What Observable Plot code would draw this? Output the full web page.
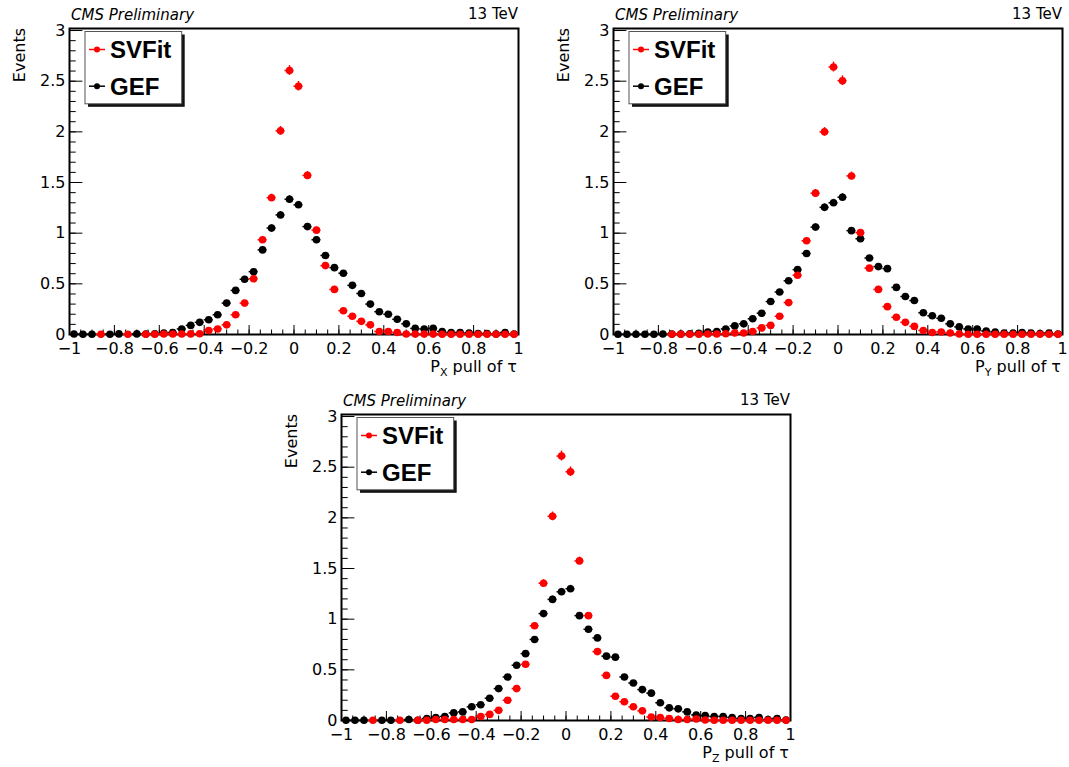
<!DOCTYPE html>
<html><head><meta charset="utf-8">
<script src="https://cdn.jsdelivr.net/npm/d3@7"></script>
<script src="https://cdn.jsdelivr.net/npm/@observablehq/plot@0.6"></script>
<style>
body{margin:0;background:#fff;overflow:hidden}
#root{position:relative;width:1069px;height:767px;background:#fff}
.panel{position:absolute}
</style></head><body><div id="root"></div>
<script>
// ---- data ----
const binCenters = [-0.98,-0.94,-0.90,-0.86,-0.82,-0.78,-0.74,-0.70,-0.66,-0.62,
  -0.58,-0.54,-0.50,-0.46,-0.42,-0.38,-0.34,-0.30,-0.26,-0.22,
  -0.18,-0.14,-0.10,-0.06,-0.02,0.02,0.06,0.10,0.14,0.18,
  0.22,0.26,0.30,0.34,0.38,0.42,0.46,0.50,0.54,0.58,
  0.62,0.66,0.70,0.74,0.78,0.82,0.86,0.90,0.94,0.98];
const xTickLabels = [-1,-0.8,-0.6,-0.4,-0.2,0,0.2,0.4,0.6,0.8,1];
const yTickLabels = [0,0.5,1,1.5,2,2.5,3];
const seriesNames = ["SVFit","GEF"];
const seriesColors = ["#ff0000","#000000"];
const panelAxes = ["X","Y","Z"];

const pxSVFit = [null,null,null,0.002,null,null,0.002,null,0.003,0.003,
  0.005,0.005,0.005,0.006,0.008,0.04,0.055,0.095,0.195,0.31,
  0.55,0.935,1.35,2.01,2.605,2.45,1.57,1.03,0.68,0.445,
  0.235,0.18,0.13,0.095,0.03,0.03,0.02,0.005,0.004,0.004,
  0.004,0.003,0.003,0.003,0.003,0.003,0.003,0.003,0.003,0.003];
const pxGEF = [0.005,0.003,0.003,null,0.003,0.006,null,0.006,0.005,0.008,
  0.015,0.02,0.055,0.09,0.12,0.145,0.195,0.31,0.435,0.545,
  0.62,0.835,1.05,1.18,1.335,1.28,1.065,0.935,0.78,0.66,
  0.605,0.485,0.405,0.30,0.225,0.20,0.15,0.105,0.06,0.055,
  0.06,0.03,0.02,0.02,0.015,0.01,0.01,0.005,0.02,0.005];

const pySVFit = [null,null,null,null,null,null,0.002,0.002,0.002,0.003,
  0.005,0.005,0.007,0.015,0.015,0.03,0.065,0.09,0.18,0.315,
  0.585,0.925,1.395,2.0,2.64,2.505,1.565,1.005,0.655,0.445,
  0.275,0.17,0.12,0.08,0.04,0.02,0.025,0.015,0.005,0.003,
  0.003,0.003,0.003,0.003,0.003,0.003,0.003,0.003,0.003,0.003];
const pyGEF = [0.003,0.002,0.002,0.002,0.002,0.005,0.004,0.005,0.008,0.012,
  0.025,0.03,0.055,0.085,0.105,0.155,0.21,0.325,0.42,0.53,
  0.64,0.80,1.06,1.255,1.30,1.355,1.025,0.945,0.755,0.67,
  0.65,0.465,0.375,0.335,0.215,0.185,0.16,0.105,0.075,0.055,
  0.055,0.035,0.025,0.015,0.015,0.02,0.015,0.01,0.015,0.005];

const pzSVFit = [null,null,null,0.002,null,null,0.002,null,0.002,0.002,
  0.01,0.01,0.01,0.01,0.01,0.04,0.06,0.10,0.20,0.315,
  0.555,0.935,1.355,2.015,2.61,2.455,1.575,1.035,0.68,0.445,
  0.24,0.185,0.135,0.095,0.035,0.03,0.02,0.01,0.01,0.015,
  0.005,0.003,0.003,0.003,0.003,0.003,0.003,0.003,0.003,0.003];
const pzGEF = [0.002,0.002,0.002,null,0.002,0.002,null,0.01,0.003,0.02,
  0.03,0.04,0.075,0.085,0.135,0.155,0.22,0.315,0.43,0.545,
  0.66,0.80,1.055,1.195,1.27,1.30,1.035,0.90,0.815,0.635,
  0.625,0.43,0.37,0.305,0.27,0.175,0.125,0.115,0.085,0.055,
  0.05,0.04,0.04,0.03,0.02,0.02,0.03,0.01,0.02,0.005];

// ---- layout ----
const W = 523, H = 380, ML = 69, MR = 5, MT = 28, MB = 46;
const FW = W - ML - MR, FH = H - MT - MB;
const panelPos = [{left:0, top:0},{left:544, top:0},{left:272, top:386}];
const panelData = [[pxSVFit, pxGEF],[pySVFit, pyGEF],[pzSVFit, pzGEF]];
const halfBin = (binCenters[1] - binCenters[0]) / 2;
const statErr = v => 0.03 * Math.sqrt(Math.max(v, 0));
const fmt = d3.format("~g");
const xMinor = d3.range(-20, 21).map(i => i * 0.05);
const yMinor = d3.range(0, 31).map(i => i * 0.1);

const root = document.getElementById("root");

panelData.forEach((vals, p) => {
  const seriesRows = vals.map((arr, s) => binCenters.map((x, i) => ({x, y: arr[i], s})).filter(d => d.y != null));
  const seriesMarks = [];
  // draw GEF first, SVFit on top
  [1, 0].forEach(s => {
    const rows = seriesRows[s], c = seriesColors[s];
    seriesMarks.push(
      Plot.ruleY(rows, {y: "y", x1: d => d.x - halfBin, x2: d => d.x + halfBin, stroke: c, strokeWidth: 1.5}),
      Plot.ruleX(rows, {x: "x", y1: d => d.y - statErr(d.y), y2: d => d.y + statErr(d.y), stroke: c, strokeWidth: 1.5}),
      Plot.dot(rows, {x: "x", y: "y", r: 3.8, fill: c, stroke: null})
    );
  });
  const chart = Plot.plot({
    width: W, height: H,
    marginLeft: ML, marginRight: MR, marginTop: MT, marginBottom: MB,
    style: {fontFamily: "DejaVu Sans", fontSize: "16px", background: "white", overflow: "visible", color: "black"},
    x: {domain: [-1, 1]},
    y: {domain: [0, 3.02]},
    marks: [
      Plot.frame({stroke: "black", strokeWidth: 2}),
      Plot.tickX(xMinor, {x: d => d, insetTop: FH - 4.5, stroke: "black"}),
      Plot.tickX(xTickLabels, {x: d => d, insetTop: FH - 9, stroke: "black"}),
      Plot.tickY(yMinor, {y: d => d, insetRight: FW - 6.7, stroke: "black"}),
      Plot.tickY(yTickLabels, {y: d => d, insetRight: FW - 13.4, stroke: "black"}),
      Plot.axisX({ticks: xTickLabels, tickSize: 0, tickPadding: 8, tickFormat: fmt, fontSize: 16, label: null}),
      Plot.axisY({ticks: yTickLabels, tickSize: 0, tickPadding: 4, tickFormat: fmt, fontSize: 16, label: null}),
      ...seriesMarks
    ]
  });
  const wrap = document.createElement("div");
  wrap.className = "panel";
  wrap.style.left = panelPos[p].left + "px";
  wrap.style.top = panelPos[p].top + "px";
  wrap.appendChild(chart);
  root.appendChild(wrap);

  const svg = d3.select(chart);
  const right = ML + FW;
  svg.append("text").attr("x", ML + 2).attr("y", 19.5).attr("text-anchor", "start").attr("font-style", "italic")
    .attr("font-size", 15).attr("fill", "black").text("CMS Preliminary");
  svg.append("text").attr("x", right).attr("y", 19).attr("text-anchor", "end")
    .attr("font-size", 15).attr("fill", "black").text("13 TeV");
  svg.append("text").attr("transform", `translate(25,${MT}) rotate(-90)`).attr("text-anchor", "end")
    .attr("font-size", 16).attr("fill", "black").text("Events");
  const xl = svg.append("text").attr("x", right - 1).attr("y", MT + FH + 37.5).attr("text-anchor", "end")
    .attr("font-size", 16).attr("fill", "black");
  xl.append("tspan").text("P");
  xl.append("tspan").attr("font-size", 11).attr("dy", 4).text(panelAxes[p]);
  xl.append("tspan").attr("dy", -4).text(" pull of τ");

  // legend
  const lg = svg.append("g").attr("transform", `translate(${ML + 16},${MT + 3.5})`);
  const bw = 96.7, bh = 72.3;
  lg.append("rect").attr("x", 3).attr("y", 3).attr("width", bw).attr("height", bh).attr("fill", "#111");
  lg.append("rect").attr("x", 0).attr("y", 0).attr("width", bw).attr("height", bh).attr("fill", "white").attr("stroke", "#555").attr("stroke-width", 1);
  seriesNames.forEach((name, s) => {
    const cy = 18 + s * 36.7;
    lg.append("line").attr("x1", 4).attr("x2", 20).attr("y1", cy).attr("y2", cy).attr("stroke", seriesColors[s]).attr("stroke-width", 1.5);
    lg.append("circle").attr("cx", 12).attr("cy", cy).attr("r", 3).attr("fill", seriesColors[s]);
    lg.append("text").attr("x", 25).attr("y", cy + 8.8).attr("text-anchor", "start").attr("font-family", "Liberation Sans, Arial, sans-serif")
      .attr("font-weight", "bold").attr("font-size", 24).attr("fill", "black").text(name);
  });
});
</script></body></html>
